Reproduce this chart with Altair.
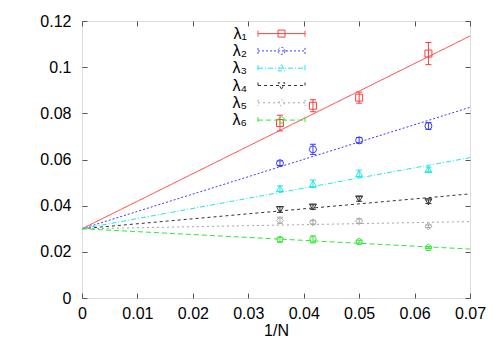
import altair as alt
import pandas as pd

# ---------------- data ----------------
series = ["λ₁", "λ₂", "λ₃", "λ₄", "λ₅", "λ₆"]
inv_n = [1 / 28, 1 / 24, 1 / 20, 1 / 16]

lam1 = [0.0758, 0.0833, 0.0868, 0.1059]
lam2 = [0.0584, 0.0644, 0.0683, 0.0745]
lam3 = [0.0474, 0.0495, 0.0539, 0.0557]
lam4 = [0.0383, 0.0394, 0.0429, 0.0417]
lam5 = [0.0336, 0.0328, 0.0333, 0.0311]
lam6 = [0.0253, 0.0254, 0.0244, 0.0218]

err1 = [0.0034, 0.0026, 0.0024, 0.0048]
err2 = [0.0010, 0.0022, 0.0012, 0.0015]
err3 = [0.0012, 0.0016, 0.0015, 0.0010]
err4 = [0.0012, 0.0010, 0.0010, 0.0008]
err5 = [0.0014, 0.0008, 0.0010, 0.0006]
err6 = [0.0010, 0.0015, 0.0006, 0.0004]

fit_x = [0.0, 0.07]
fit1 = [0.0300, 0.1135]
fit2 = [0.0300, 0.0826]
fit3 = [0.0300, 0.0608]
fit4 = [0.0300, 0.0451]
fit5 = [0.0300, 0.0331]
fit6 = [0.0300, 0.0212]

x_ticks = [0, 0.01, 0.02, 0.03, 0.04, 0.05, 0.06, 0.07]
y_ticks = [0, 0.02, 0.04, 0.06, 0.08, 0.10, 0.12]

# ---------------- tables ----------------
vals = [lam1, lam2, lam3, lam4, lam5, lam6]
errs = [err1, err2, err3, err4, err5, err6]
fits = [fit1, fit2, fit3, fit4, fit5, fit6]

pts = pd.DataFrame(
    [
        {"series": s, "x": x, "y": v, "lo": v - e, "hi": v + e}
        for s, vs, es in zip(series, vals, errs)
        for x, v, e in zip(inv_n, vs, es)
    ]
)
lines = pd.DataFrame(
    [{"series": s, "x": x, "y": y} for s, fy in zip(series, fits) for x, y in zip(fit_x, fy)]
)

# ---------------- styles ----------------
colors = ["#ff3b3b", "#3b3bff", "#22e6e6", "#333333", "#a6a6a6", "#33e633"]
dashes = [[1, 0], [2, 2], [5, 2, 1, 2], [3, 3], [2, 3], [5, 3]]
marker_shapes = [
    "square",
    "circle",
    "triangle-up",
    "triangle-down",
    "diamond",
    "M0,-1L0.951,-0.309L0.588,0.809L-0.588,0.809L-0.951,-0.309Z",
]

W, H = 388, 277
FONT = "Liberation Sans"

# legend symbol paths (line sample + marker + error-bar end caps)
UNIT = 8.0          # half of symbol box (sqrt(size)/2)
HALF = 23.5 / UNIT  # half length of sample line
CAP = 3.0 / UNIT
MK = 3.5 / UNIT


def seg_line(pattern):
    if pattern[1] == 0:
        return f"M{-HALF:.3f},0H{HALF:.3f}"
    out, pos, i = [], -HALF, 0
    pat = [p / UNIT for p in pattern]
    while pos < HALF:
        L = pat[i % len(pat)]
        end = min(pos + L, HALF)
        if i % 2 == 0:
            out.append(f"M{pos:.3f},0H{end:.3f}")
        pos = end
        i += 1
    return "".join(out)


def marker_path(kind):
    m = MK
    if kind == "square":
        return f"M{-m:.3f},{-m:.3f}H{m:.3f}V{m:.3f}H{-m:.3f}Z"
    if kind == "circle":
        return f"M{m:.3f},0A{m:.3f},{m:.3f} 0 1,1 {-m:.3f},0A{m:.3f},{m:.3f} 0 1,1 {m:.3f},0Z"
    if kind == "triangle-up":
        return f"M0,{-m:.3f}L{m:.3f},{m*0.75:.3f}L{-m:.3f},{m*0.75:.3f}Z"
    if kind == "triangle-down":
        return f"M0,{m:.3f}L{m:.3f},{-m*0.75:.3f}L{-m:.3f},{-m*0.75:.3f}Z"
    if kind == "diamond":
        return f"M0,{-m:.3f}L{m:.3f},0L0,{m:.3f}L{-m:.3f},0Z"
    return (
        f"M0,{-m:.3f}L{0.951*m:.3f},{-0.309*m:.3f}L{0.588*m:.3f},{0.809*m:.3f}"
        f"L{-0.588*m:.3f},{0.809*m:.3f}L{-0.951*m:.3f},{-0.309*m:.3f}Z"
    )


caps = f"M{-HALF:.3f},{-CAP:.3f}V{CAP:.3f}M{HALF:.3f},{-CAP:.3f}V{CAP:.3f}"
legend_paths = [
    seg_line(d) + caps + marker_path(k)
    for d, k in zip(dashes, ["square", "circle", "triangle-up", "triangle-down", "diamond", "pent"])
]

color_scale = alt.Scale(domain=series, range=colors)

leg = alt.Legend(
    title=None,
    orient="none",
    legendX=191,
    legendY=4.1,
    padding=0,
    offset=0,
    rowPadding=0.3,
    labelFont=FONT,
    labelFontSize=16,
    labelColor="black",
    labelAlign="right",
    labelOffset={"expr": "-43"},
    symbolSize=UNIT * UNIT * 4,
    symbolStrokeWidth=1,
    symbolFillColor="transparent",
)

xs = alt.Scale(domain=[0, 0.07], nice=False, zero=False)
ys = alt.Scale(domain=[0, 0.12], nice=False, zero=False)

x_axis = alt.Axis(
    values=x_ticks,
    format=".2~f",
    title="1/N",
    domain=False,
    ticks=False,
    grid=True,
    gridColor="#555555",
    gridWidth=1,
    gridDash=[5, H - 10],
    labelFlush=False,
    labelFont=FONT,
    labelFontSize=16,
    labelColor="black",
    labelPadding=7,
    titleFont=FONT,
    titleFontSize=16,
    titleFontWeight="normal",
    titleColor="black",
    titlePadding=1,
)
y_axis = alt.Axis(
    values=y_ticks,
    format=".2~f",
    title=None,
    domain=False,
    ticks=False,
    grid=True,
    gridColor="#555555",
    gridWidth=1,
    gridDash=[5, W - 10],
    labelFlush=False,
    labelFont=FONT,
    labelFontSize=16,
    labelColor="black",
    labelPadding=11,
)

X = alt.X("x:Q", scale=xs, axis=x_axis)
Y = alt.Y("y:Q", scale=ys, axis=y_axis)
C = alt.Color("series:N", scale=color_scale, legend=leg)

line_layer = alt.Chart(lines).mark_line(strokeWidth=1, clip=True).encode(
    x=X,
    y=Y,
    color=C,
    strokeDash=alt.StrokeDash("series:N", scale=alt.Scale(domain=series, range=dashes), legend=None),
    detail="series:N",
)

err_layer = alt.Chart(pts).mark_rule(strokeWidth=1).encode(
    x=alt.X("x:Q", scale=xs),
    y=alt.Y("lo:Q", scale=ys),
    y2="hi:Q",
    color=C,
)
cap_lo = alt.Chart(pts).mark_rule(strokeWidth=1, xOffset=-3, x2Offset=3).encode(
    x=alt.X("x:Q", scale=xs), x2="x:Q", y=alt.Y("lo:Q", scale=ys), color=C
)
cap_hi = alt.Chart(pts).mark_rule(strokeWidth=1, xOffset=-3, x2Offset=3).encode(
    x=alt.X("x:Q", scale=xs), x2="x:Q", y=alt.Y("hi:Q", scale=ys), color=C
)

point_layers = [
    alt.Chart(pts)
    .transform_filter(alt.datum.series == s)
    .mark_point(shape=shp, filled=False, size=49, strokeWidth=1, opacity=1)
    .encode(x=alt.X("x:Q", scale=xs), y=alt.Y("y:Q", scale=ys), color=C)
    for s, shp in zip(series, marker_shapes)
]

legend_layer = (
    alt.Chart(pts)
    .transform_filter("false")
    .mark_point(filled=False, strokeWidth=1, opacity=1)
    .encode(
        x=alt.X("x:Q", scale=xs),
        y=alt.Y("y:Q", scale=ys),
        color=C,
        shape=alt.Shape("series:N", scale=alt.Scale(domain=series, range=legend_paths), legend=leg),
    )
)

chart = (
    alt.layer(line_layer, err_layer, cap_lo, cap_hi, *point_layers, legend_layer)
    .properties(
        width=W,
        height=H,
        autosize=alt.AutoSizeParams(type="none"),
        padding={"left": 74, "top": 13, "right": 22, "bottom": 50},
    )
    .configure_view(stroke="black", strokeWidth=1)
    .configure(background="white")
)

chart.save("out.html", embed_options={"renderer": "svg", "actions": False})
